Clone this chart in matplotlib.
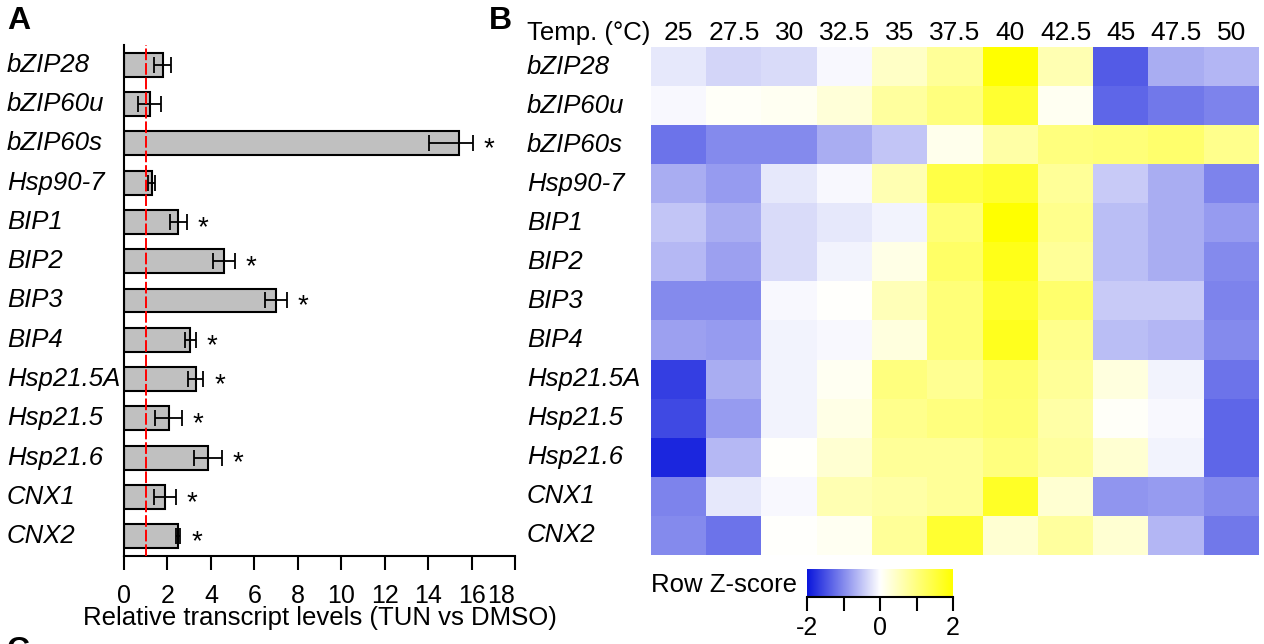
import matplotlib
matplotlib.use("Agg")
import matplotlib.pyplot as plt
import matplotlib.transforms as mtransforms
from matplotlib.colors import LinearSegmentedColormap
import numpy as np

plt.rcParams["font.family"] = ["Liberation Sans", "DejaVu Sans"]

# ---- panel A: relative transcript levels (TUN vs DMSO) ----
genes = ["bZIP28", "bZIP60u", "bZIP60s", "Hsp90-7", "BIP1", "BIP2", "BIP3",
         "BIP4", "Hsp21.5A", "Hsp21.5", "Hsp21.6", "CNX1", "CNX2"]
rel_levels = [1.8, 1.2, 15.4, 1.3, 2.5, 4.6, 7.0, 3.05, 3.3, 2.05, 3.85, 1.9, 2.5]
err_low = [0.4, 0.55, 1.35, 0.2, 0.4, 0.5, 0.5, 0.25, 0.35, 0.6, 0.65, 0.5, 0.1]
err_high = [0.35, 0.5, 0.65, 0.15, 0.4, 0.5, 0.5, 0.25, 0.35, 0.6, 0.65, 0.5, 0.1]
significant = [False, False, True, False, True, True, True,
               True, True, True, True, True, True]
x_ticks = [0, 2, 4, 6, 8, 10, 12, 14, 16, 18]

# ---- panel B: heatmap of row Z-scores across temperatures ----
temps = ["25", "27.5", "30", "32.5", "35", "37.5", "40", "42.5", "45", "47.5", "50"]
zscores = np.array([
    [-0.2, -0.35, -0.3, -0.05, 0.45, 0.8, 2.0, 0.6, -1.4, -0.7, -0.62],
    [-0.05, 0.05, 0.1, 0.3, 0.75, 1.0, 1.6, 0.1, -1.3, -1.15, -1.05],
    [-1.2, -1.0, -1.0, -0.7, -0.5, 0.15, 0.7, 1.0, 1.05, 1.15, 0.9],
    [-0.7, -0.85, -0.2, -0.05, 0.6, 1.45, 1.6, 0.8, -0.45, -0.7, -1.05],
    [-0.5, -0.7, -0.3, -0.2, -0.1, 1.05, 2.0, 0.9, -0.55, -0.7, -0.85],
    [-0.6, -0.8, -0.3, -0.1, 0.2, 1.2, 1.8, 0.8, -0.55, -0.7, -1.0],
    [-1.0, -1.0, -0.05, 0.02, 0.55, 1.05, 1.6, 1.15, -0.45, -0.45, -1.05],
    [-0.8, -0.85, -0.1, -0.05, 0.25, 1.05, 1.75, 0.9, -0.55, -0.62, -1.0],
    [-1.65, -0.7, -0.1, 0.1, 1.0, 0.85, 1.15, 0.8, 0.25, -0.1, -1.2],
    [-1.55, -0.85, -0.1, 0.2, 0.9, 1.0, 1.1, 0.7, 0.05, -0.05, -1.3],
    [-1.85, -0.6, 0.02, 0.35, 0.8, 0.8, 1.0, 0.75, 0.35, -0.1, -1.3],
    [-1.05, -0.2, -0.05, 0.6, 0.7, 0.8, 1.7, 0.35, -0.9, -0.85, -1.0],
    [-1.0, -1.2, 0.02, 0.1, 0.8, 1.6, 0.35, 0.75, 0.35, -0.62, -1.15],
])

W, H = 1264, 644
fig = plt.figure(figsize=(W / 100, H / 100), dpi=100)


def fx(px):
    return px / W


def fy(py):
    return 1 - py / H


# ---------------- panel A ----------------
ax = fig.add_axes([fx(124), fy(556), fx(515 - 124), (556 - 45) / H])
y = np.arange(len(genes))
ax.barh(y, rel_levels, height=0.61, color="#c0c0c0", edgecolor="black",
        linewidth=1.5, zorder=2)
ax.errorbar(rel_levels, y, xerr=[err_low, err_high], fmt="none", ecolor="black",
            elinewidth=1.3, capsize=6, capthick=1.3, zorder=3)
for yi, v, e, sig in zip(y, rel_levels, err_high, significant):
    if sig:
        ax.text(v + e + 0.5, yi + 0.15, "*", fontsize=20, ha="left", va="center")

ax.axvline(1, color="red", linestyle=(0, (6, 1.5)), linewidth=1.4, zorder=4)
ax.set_xlim(0, 18)
ax.set_ylim(len(genes) - 0.5, -0.5)
ax.set_xticks(x_ticks)
ax.set_xticklabels([str(t) for t in x_ticks], fontsize=18)
ax.get_xticklabels()[-1].set_ha("right")
ax.tick_params(axis="x", length=10, width=1.5, pad=10)
ax.set_yticks([])
for s in ["top", "right"]:
    ax.spines[s].set_visible(False)
for s in ["left", "bottom"]:
    ax.spines[s].set_linewidth(1.5)
ax.set_xlabel("Relative transcript levels (TUN vs DMSO)", fontsize=18.5, labelpad=-1)

lab_tr = mtransforms.blended_transform_factory(fig.transFigure, ax.transData)
for yi, g in zip(y, genes):
    ax.text(fx(7), yi, g, transform=lab_tr, fontsize=18.5, style="italic",
            ha="left", va="center")

# ---------------- panel B ----------------
cmap = LinearSegmentedColormap.from_list("bwy", ["#0a16dc", "#ffffff", "#ffff00"])
hx = fig.add_axes([fx(651), fy(555), fx(1259 - 651), (555 - 47) / H])
hx.imshow(zscores, cmap=cmap, vmin=-2, vmax=2, aspect="auto",
          interpolation="nearest")
hx.set_xticks([])
hx.set_yticks([])
for s in hx.spines.values():
    s.set_visible(False)

for j, t in enumerate(temps):
    hx.text(j, -0.55, t, fontsize=19, ha="center", va="bottom")
fig.text(fx(527), fy(33), "Temp. (°C)", fontsize=18.5, ha="left", va="center")

hl_tr = mtransforms.blended_transform_factory(fig.transFigure, hx.transData)
for i, g in enumerate(genes):
    hx.text(fx(527), i, g, transform=hl_tr, fontsize=18.5, style="italic",
            ha="left", va="center")

# colour key
cx = fig.add_axes([fx(807), fy(597), fx(953 - 807), 28 / H])
grad = np.linspace(-2, 2, 256).reshape(1, -1)
cx.imshow(grad, cmap=cmap, vmin=-2, vmax=2, aspect="auto",
          extent=[-2, 2, 0, 1], interpolation="bilinear")
cx.set_xlim(-2, 2)
cx.set_xticks([-2, -1, 0, 1, 2])
cx.set_xticklabels(["-2", "", "0", "", "2"], fontsize=18)
cx.set_yticks([])
cx.tick_params(axis="x", length=10, width=1.5, pad=4)
for s in ["top", "left", "right"]:
    cx.spines[s].set_visible(False)
cx.spines["bottom"].set_linewidth(1.5)
fig.text(fx(797), fy(585), "Row Z-score", fontsize=18.5, ha="right", va="center")

# panel letters
fig.text(fx(7), fy(21), "A", fontsize=23, fontweight="bold", ha="left", va="center")
fig.text(fx(489), fy(21), "B", fontsize=23, fontweight="bold", ha="left", va="center")
fig.text(fx(7), -0.023, "C", fontsize=23, fontweight="bold", ha="left", va="baseline")

fig.savefig("out.png", dpi=100)
